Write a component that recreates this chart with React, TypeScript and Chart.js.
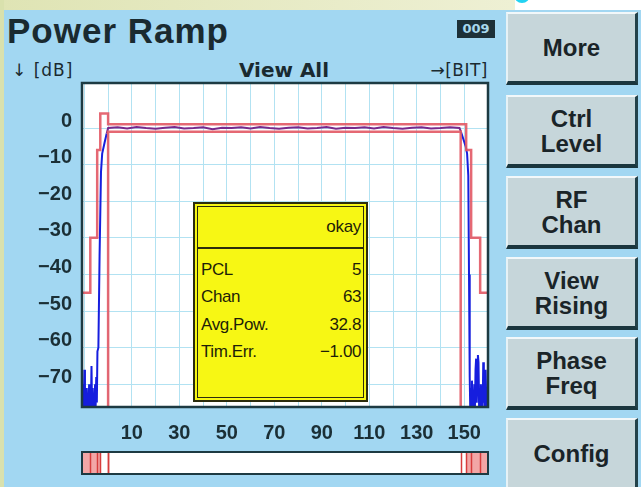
import React, { useEffect, useRef } from 'react';
import { Chart, registerables } from 'chart.js';

Chart.register(...registerables);

// ---- data ----
const bitGridTicks = [-10, 0, 10, 20, 30, 40, 50, 60, 70, 80, 90, 100, 110, 120, 130, 140, 150, 160];
const bitLabels = [10, 30, 50, 70, 90, 110, 130, 150];
const dbTicks = [0, -10, -20, -30, -40, -50, -60, -70];

const upperMaskBits = [-11, -7.5, -4.6, -3.3, 0, 150.8, 152.9, 156.7, 160];
const upperMaskDb = [-45, -30, -6, 4, 1, -6, -30, -45, -45];

const lowerMaskBits = [0, 0, 148.5];
const lowerMaskDb = [-80, -1, -80];

const traceBits = [
  -11, -10.75, -10.5, -10.25, -10, -9.75, -9.5, -9.25, -9, -8.75, -8.5, -8.25, -8, -7.75,
  -7.5, -7.25, -7, -6.75, -6.5, -6.25, -6, -5.75, -5.5, -5.25, -5, -4.75, -4.5,
  -4.1, -3.6, -3.0, -2.5, -1.5, -0.6, 0,
  4, 8, 12, 16, 20, 24, 28, 32, 36, 40, 44, 48, 52, 56, 60, 64, 68, 72, 76,
  80, 84, 88, 92, 96, 100, 104, 108, 112, 116, 120, 124, 128, 132, 136, 140, 144, 148,
  148.6, 149.6, 150.6, 151.2, 151.7, 152.0, 152.3,
  152.5, 152.75, 153, 153.25, 153.5, 153.75, 154, 154.25, 154.5, 154.75, 155, 155.25, 155.5,
  155.75, 156, 156.25, 156.5, 156.75, 157, 157.25, 157.5, 157.75, 158, 158.25, 158.5, 158.75,
  159, 159.25, 159.5, 159.75, 160,
];
const traceDb = [
  -72, -77, -70, -76, -66, -77, -73, -76, -71, -77, -74, -76, -70, -77,
  -72, -76, -65, -77, -71, -76, -73, -77, -70, -76, -68, -75, -61,
  -60, -35, -12, -7, -4, -1.5, 0,
  0.2, -0.1, 0.3, 0, -0.2, 0.1, 0.3, -0.1, 0, 0.2, -0.3, 0.1, 0, 0.2, -0.1, 0.3, 0, -0.2, 0.1,
  0.2, -0.1, 0, 0.3, -0.2, 0.1, 0, 0.2, -0.1, 0.3, 0, -0.2, 0.1, 0.2, -0.1, 0, 0.2, 0,
  -1, -3, -5, -7, -13, -40, -68,
  -76, -71, -77, -69, -76, -72, -77, -70, -76, -66, -63, -75, -70,
  -62, -64, -76, -71, -77, -70, -76, -73, -77, -64, -75, -68, -76,
  -66, -74, -76, -71, -75,
];

const infoHeader = 'okay';
const infoLabels = ['PCL', 'Chan', 'Avg.Pow.', 'Tim.Err.'];
const infoValues = ['5', '63', '32.8', '\u22121.00'];

const buttonLabels: string[][] = [
  ['More'],
  ['Ctrl', 'Level'],
  ['RF', 'Chan'],
  ['View', 'Rising'],
  ['Phase', 'Freq'],
  ['Config'],
];
const buttonTops = [12, 95, 176, 257, 337, 418];

const pts = (xs: number[], ys: number[]) => xs.map((x, i) => ({ x, y: ys[i] }));

const DARK = '#1d3a42';
const BLUE = 'rgb(22,30,222)';
const PURPLE = 'rgb(120,40,140)';
const RED = 'rgba(226,88,100,0.9)';

const framePlugin = {
  id: 'frameAndOverview',
  beforeDraw(chart: any) {
    const { ctx, chartArea: a } = chart;
    ctx.save();
    ctx.fillStyle = '#ffffff';
    ctx.fillRect(a.left, a.top, a.right - a.left, a.bottom - a.top);
    ctx.restore();
  },
  afterDraw(chart: any) {
    const { ctx, chartArea: a } = chart;
    const xs = chart.scales.x;
    ctx.save();
    ctx.strokeStyle = DARK;
    ctx.lineWidth = 2.5;
    ctx.strokeRect(a.left, a.top, a.right - a.left, a.bottom - a.top);

    // overview bar
    const top = a.bottom + 45;
    const h = 22;
    ctx.fillStyle = '#ffffff';
    ctx.fillRect(a.left, top, a.right - a.left, h);
    ctx.fillStyle = 'rgba(240,150,150,0.85)';
    for (let i = 0; i < upperMaskBits.length - 1; i++) {
      if (upperMaskDb[i] < 0) {
        const x0 = xs.getPixelForValue(upperMaskBits[i]);
        const x1 = xs.getPixelForValue(upperMaskBits[i + 1]);
        ctx.fillRect(x0, top, x1 - x0, h);
      }
    }
    ctx.strokeStyle = 'rgb(215,60,60)';
    ctx.lineWidth = 1.5;
    const stepBits = [...upperMaskBits.slice(1, -1), lowerMaskBits[0], lowerMaskBits[2]];
    stepBits.forEach((b) => {
      const x = Math.round(xs.getPixelForValue(b)) + 0.5;
      ctx.beginPath();
      ctx.moveTo(x, top);
      ctx.lineTo(x, top + h);
      ctx.stroke();
    });
    ctx.strokeStyle = DARK;
    ctx.lineWidth = 2;
    ctx.strokeRect(a.left, top, a.right - a.left, h);
    ctx.restore();
  },
};

function PowerRampChart() {
  const ref = useRef<HTMLCanvasElement | null>(null);
  useEffect(() => {
    if (!ref.current) return;
    const tickFont = { family: '"Liberation Sans", Arial, sans-serif', size: 20, weight: 'bold' as const };
    const chart = new Chart(ref.current, {
      type: 'line',
      data: {
        datasets: [
          {
            label: 'Upper limit',
            data: pts(upperMaskBits, upperMaskDb),
            borderColor: RED,
            borderWidth: 2.5,
            pointRadius: 0,
            stepped: true,
          },
          {
            label: 'Lower limit',
            data: pts(lowerMaskBits, lowerMaskDb),
            borderColor: RED,
            borderWidth: 2.5,
            pointRadius: 0,
            stepped: true,
          },
          {
            label: 'Power',
            data: pts(traceBits, traceDb),
            borderColor: BLUE,
            borderWidth: 2,
            pointRadius: 0,
            tension: 0,
            segment: {
              borderColor: (c: any) => (c.p0.parsed.y > -2 && c.p1.parsed.y > -2 ? PURPLE : BLUE),
            },
          },
        ],
      },
      options: {
        animation: false,
        responsive: false,
        maintainAspectRatio: false,
        events: [],
        layout: { padding: { top: 3, right: 12, bottom: 0, left: 0 } },
        plugins: { legend: { display: false }, tooltip: { enabled: false }, title: { display: false } },
        scales: {
          x: {
            type: 'linear',
            min: -11,
            max: 160,
            border: { display: false },
            grid: { color: 'rgb(178,226,242)', lineWidth: 1, drawTicks: false },
            ticks: {
              font: tickFont,
              color: '#1b2f36',
              padding: 14,
              maxRotation: 0,
              autoSkip: false,
              callback: (v: any) => (bitLabels.includes(Number(v)) ? String(v) : ''),
            },
            afterBuildTicks: (s: any) => {
              s.ticks = bitGridTicks.map((value) => ({ value }));
            },
            afterFit: (s: any) => {
              s.height = 80;
              s.paddingLeft = 0;
              s.paddingRight = 0;
            },
          },
          y: {
            type: 'linear',
            min: -76.2,
            max: 12.3,
            border: { display: false },
            grid: { color: 'rgb(178,226,242)', lineWidth: 1, drawTicks: false },
            ticks: {
              font: tickFont,
              color: '#1b2f36',
              padding: 10,
              labelOffset: -7,
              autoSkip: false,
              callback: (v: any) => (Number(v) < 0 ? '\u2212' + Math.abs(Number(v)) : String(v)),
            },
            afterBuildTicks: (s: any) => {
              s.ticks = dbTicks.map((value) => ({ value }));
            },
            afterFit: (s: any) => {
              s.width = 82;
              s.paddingTop = 0;
              s.paddingBottom = 0;
            },
          },
        },
      },
      plugins: [framePlugin],
    });
    return () => chart.destroy();
  }, []);
  return (
    <canvas
      ref={ref}
      width={500}
      height={407}
      style={{ position: 'absolute', left: 0, top: 80, width: 500, height: 407 }}
    />
  );
}

export default function App() {
  const sans = '"Liberation Sans", Arial, sans-serif';
  const deja = '"DejaVu Sans", sans-serif';
  const textDark = '#1a2a30';
  return (
    <div
      style={{
        position: 'absolute',
        left: 0,
        top: 0,
        width: 641,
        height: 487,
        overflow: 'hidden',
        background: '#a2d7f2',
        fontFamily: sans,
        color: textDark,
      }}
    >
      {/* top strip */}
      <div style={{ position: 'absolute', left: 0, top: 0, width: 515, height: 10, background: 'linear-gradient(90deg,#dfe4b4,#eef0d4)' }} />
      <div style={{ position: 'absolute', left: 515, top: 0, width: 126, height: 10, background: '#ffffff' }} />
      <div style={{ position: 'absolute', left: 514, top: -13, width: 16, height: 16, borderRadius: 8, background: '#22d2f2' }} />
      {/* left strip */}
      <div style={{ position: 'absolute', left: 0, top: 0, width: 4, height: 487, background: '#d9e1ad' }} />

      {/* header */}
      <div style={{ position: 'absolute', left: 7, top: 13, fontSize: 35, lineHeight: '35px', fontWeight: 'bold', letterSpacing: 1, whiteSpace: 'nowrap' }}>
        Power Ramp
      </div>
      <div
        style={{
          position: 'absolute', left: 457, top: 20, width: 38, height: 18, background: '#1d3038',
          color: '#a8d8ee', fontSize: 13, lineHeight: '18px', fontWeight: 'bold', textAlign: 'center', fontFamily: deja,
        }}
      >
        009
      </div>
      <div style={{ position: 'absolute', left: 12, top: 62, fontSize: 17, lineHeight: '17px', fontFamily: deja, letterSpacing: 1, whiteSpace: 'nowrap' }}>
        {'\u2193 [dB]'}
      </div>
      <div style={{ position: 'absolute', left: 184, top: 60, width: 200, textAlign: 'center', fontSize: 20, lineHeight: '20px', fontWeight: 'bold', fontFamily: deja, whiteSpace: 'nowrap' }}>
        View All
      </div>
      <div style={{ position: 'absolute', right: 641 - 488, top: 62, fontSize: 17, lineHeight: '17px', fontFamily: deja, letterSpacing: 0.5, whiteSpace: 'nowrap' }}>
        {'\u2192[BIT]'}
      </div>

      <PowerRampChart />

      {/* info box */}
      <div
        style={{
          position: 'absolute', left: 193, top: 202, width: 175, height: 200, boxSizing: 'border-box',
          border: '2px solid #2c2c0c', padding: 2, background: '#f7f714', color: '#1e1e08',
        }}
      >
        <div style={{ border: '1.5px solid #2c2c0c', height: '100%', boxSizing: 'border-box', fontSize: 17 }}>
          <div style={{ height: 40, lineHeight: '40px', borderBottom: '2px solid #2c2c0c', textAlign: 'right', paddingRight: 2, letterSpacing: -0.3 }}>
            {infoHeader}
          </div>
          <div style={{ paddingTop: 7 }}>
            {infoLabels.map((l, i) => (
              <div key={l} style={{ display: 'flex', justifyContent: 'space-between', height: 27.3, lineHeight: '27px', paddingLeft: 3, paddingRight: 2, letterSpacing: -0.4 }}>
                <span>{l}</span>
                <span>{infoValues[i]}</span>
              </div>
            ))}
          </div>
        </div>
      </div>

      {/* buttons */}
      {buttonLabels.map((lines, i) => (
        <div
          key={i}
          style={{
            position: 'absolute', left: 506, top: buttonTops[i], width: 132, height: 73, boxSizing: 'border-box',
            background: '#c6d6da', borderTop: '2px solid #f2f8fa', borderLeft: '2px solid #e6f2f6',
            borderRight: '3px solid #23424a', borderBottom: '4px solid #1a363e',
            display: 'flex', flexDirection: 'column', justifyContent: 'center', alignItems: 'center',
            fontSize: 24, lineHeight: '25px', fontWeight: 'bold', color: '#1a2428',
          }}
        >
          {lines.map((t) => (
            <div key={t}>{t}</div>
          ))}
        </div>
      ))}
    </div>
  );
}
